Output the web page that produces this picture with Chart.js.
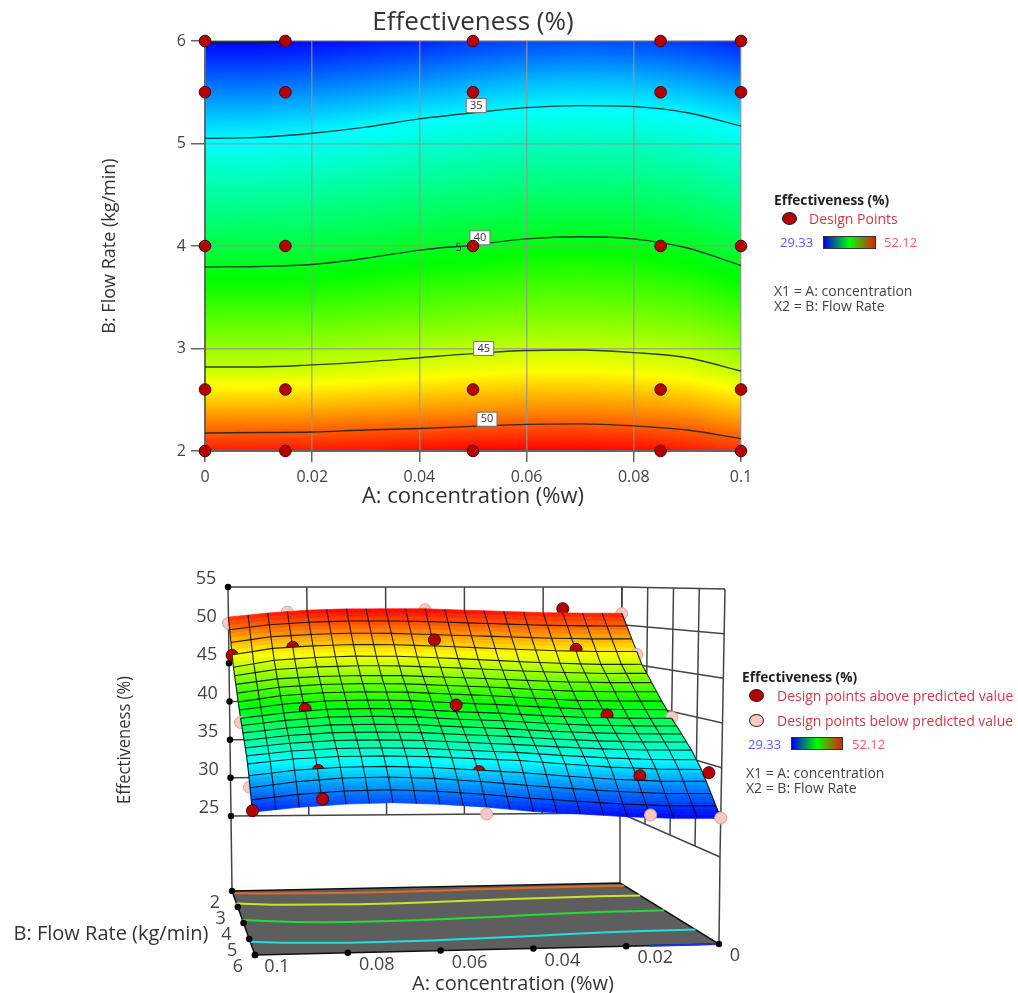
<!DOCTYPE html>
<html lang="en">
<head>
    <meta charset="UTF-8">
    <title>Effectiveness (%)</title>
    <script src="https://cdn.jsdelivr.net/npm/chart.js"></script>
    <style>
        body {
            margin: 0;
            background: #fff;
            font-family: "Open Sans", sans-serif;
            width: 1018px;
            height: 993px;
            overflow: hidden;
            position: relative;
        }
        canvas {
            position: absolute;
            left: 0;
            filter: blur(0.6px);
        }
        #contourChart { top: 0; }
        #surfaceChart { top: 520px; }
        .note {
            position: absolute;
            white-space: nowrap;
            font-size: 14px;
            line-height: 14px;
            color: #444;
            filter: blur(0.4px);
        }
        .head { font-weight: 700; color: #222; font-size: 13.7px; }
        .red { color: #cf3a48; }
        .low { color: #5a5aff; font-size: 13px; }
        .high { color: #ff5a5a; font-size: 13px; }
        .dot {
            position: absolute;
            width: 13px;
            height: 11px;
            border-radius: 50%;
            border: 1.5px solid #222;
            background: #b30000;
        }
        .dot.pink { background: #f8c8c4; }
        .bar {
            position: absolute;
            height: 11px;
            border: 1px solid #333;
            background: linear-gradient(90deg, #0000e8, #00ff00 50%, #e02000);
        }
    </style>
</head>
<body>
    <canvas id="contourChart" width="1018" height="520"></canvas>
    <canvas id="surfaceChart" width="1018" height="473"></canvas>

    <div class="note head" style="left:774px;top:193px">Effectiveness (%)</div>
    <div class="dot" style="left:782px;top:212px"></div>
    <div class="note red" style="left:809px;top:212px">Design Points</div>
    <div class="note low" style="left:780px;top:235px">29.33</div>
    <div class="bar" style="left:823px;top:236px;width:51px"></div>
    <div class="note high" style="left:884px;top:235px">52.12</div>
    <div class="note" style="left:774px;top:284px">X1 = A: concentration</div>
    <div class="note" style="left:774px;top:299px">X2 = B: Flow Rate</div>

    <div class="note head" style="left:742px;top:670px">Effectiveness (%)</div>
    <div class="dot" style="left:749px;top:689px"></div>
    <div class="note red" style="left:777px;top:689px">Design points above predicted value</div>
    <div class="dot pink" style="left:749px;top:714px"></div>
    <div class="note red" style="left:777px;top:714px">Design points below predicted value</div>
    <div class="note low" style="left:748px;top:737px">29.33</div>
    <div class="bar" style="left:791px;top:737px;width:50px"></div>
    <div class="note high" style="left:852px;top:737px">52.12</div>
    <div class="note" style="left:746px;top:766px">X1 = A: concentration</div>
    <div class="note" style="left:746px;top:781px">X2 = B: Flow Rate</div>

    <script>
        const concTicks = [0, 0.02, 0.04, 0.06, 0.08, 0.1];
        const flowTicks = [2, 3, 4, 5, 6];
        const effectTicks = [25, 30, 35, 40, 45, 50, 55];

        // contour positions: flow rate at each concentration
        const concGrid = [0, 0.01, 0.02, 0.03, 0.04, 0.05, 0.06, 0.07, 0.08, 0.09, 0.1];
        const contour35 = [5.05, 5.06, 5.10, 5.16, 5.24, 5.30, 5.35, 5.37, 5.36, 5.30, 5.17];
        const contour40 = [3.795, 3.80, 3.82, 3.88, 3.96, 4.01, 4.07, 4.09, 4.07, 3.98, 3.81];
        const contour45 = [2.82, 2.82, 2.84, 2.87, 2.91, 2.95, 2.98, 2.985, 2.96, 2.91, 2.78];
        const contour50 = [2.175, 2.18, 2.185, 2.205, 2.22, 2.24, 2.26, 2.265, 2.245, 2.205, 2.12];
        const contourLevels = [35, 40, 45, 50];
        const contourLabelConc = [0.0506, 0.0513, 0.052, 0.0526];
        const contourLabelFlow = [5.37, 4.08, 3.0, 2.31];
        const floorContourColors = ['#22dde0', '#22dd33', '#c4e62a', '#e8681e'];
        // the short 30 contour that runs along the top left edge
        const contour30Conc = [0, 0.008, 0.015];
        const contour30Flow = [5.985, 5.985, 5.995];

        const flowGrid = [2, 2.4, 2.8, 3.2, 3.6, 4, 4.4, 4.8, 5.2, 5.6, 6];
        const surfaceZ = [
            [51.51, 51.53, 51.6, 51.77, 51.94, 52.12, 52.12, 52.12, 51.95, 51.58, 51.06],
            [48.26, 48.28, 48.36, 48.53, 48.7, 48.87, 49.03, 49.06, 48.91, 48.62, 47.88],
            [45.16, 45.16, 45.31, 45.53, 45.8, 46.06, 46.25, 46.28, 46.12, 45.78, 44.9],
            [43.05, 43.06, 43.16, 43.37, 43.62, 43.82, 44.0, 44.03, 43.92, 43.64, 42.96],
            [41.0, 41.02, 41.12, 41.39, 41.71, 41.94, 42.18, 42.24, 42.14, 41.77, 41.02],
            [39.18, 39.21, 39.3, 39.54, 39.85, 40.04, 40.36, 40.45, 40.36, 39.93, 39.31],
            [37.59, 37.62, 37.74, 37.97, 38.28, 38.49, 38.75, 38.83, 38.76, 38.41, 37.83],
            [36.0, 36.03, 36.17, 36.41, 36.72, 36.94, 37.19, 37.28, 37.21, 36.9, 36.36],
            [34.1, 34.16, 34.39, 34.75, 35.16, 35.39, 35.63, 35.72, 35.66, 35.38, 34.82],
            [31.72, 31.74, 31.95, 32.29, 32.68, 33.11, 33.47, 33.64, 33.52, 33.11, 32.43],
            [29.33, 29.33, 29.51, 29.82, 30.1, 30.59, 30.92, 31.1, 30.94, 30.59, 30.05]
        ];

        // design points
        const designConc = [0, 0.015, 0.05, 0.085, 0.1];
        const designFlow = [2, 2.6, 4, 5.5, 6];
        const designZ = [
            [51.45, 52.12, 52.0, 51.7, 50.26],
            [46.32, 47.0, 48.25, 47.34, 46.32],
            [39.27, 39.6, 40.85, 40.4, 38.79],
            [34.0, 33.65, 34.15, 34.3, 32.39],
            [29.37, 29.71, 29.82, 31.5, 30.2]
        ];
        const designAbove = [
            [0, 1, 0, 0, 0],
            [0, 1, 1, 1, 1],
            [0, 1, 1, 1, 0],
            [1, 1, 1, 1, 0],
            [0, 0, 0, 1, 1]
        ];

        const zMin = 29.33;
        const zMax = 52.12;
        const font = '"Open Sans", sans-serif';
        const textColor = '#444';

        function jet(z) {
            const t = Math.min(1, Math.max(0, (z - zMin) / (zMax - zMin))) * 4;
            const stops = [[0, 0, 255], [0, 255, 255], [0, 255, 0], [255, 255, 0], [255, 0, 0]];
            const i = Math.min(3, Math.floor(t));
            const c = stops[i].map((v, k) => Math.round(v + (stops[i + 1][k] - v) * (t - i)));
            return `rgb(${c[0]},${c[1]},${c[2]})`;
        }

        function lookup(grid, value) {
            let i = 0;
            while (i < grid.length - 2 && value > grid[i + 1]) i++;
            return [i, (value - grid[i]) / (grid[i + 1] - grid[i])];
        }

        function zAt(conc, flow) {
            const [c, s] = lookup(concGrid, conc);
            const [r, t] = lookup(flowGrid, flow);
            const low = surfaceZ[r][c] + (surfaceZ[r][c + 1] - surfaceZ[r][c]) * s;
            const high = surfaceZ[r + 1][c] + (surfaceZ[r + 1][c + 1] - surfaceZ[r + 1][c]) * s;
            return low + (high - low) * t;
        }

        /* ---------- top plot ---------- */

        const fieldPlugin = {
            id: 'field',
            beforeDraw(chart) {
                const { ctx, chartArea: a, scales } = chart;
                for (let px = a.left; px < a.right; px++) {
                    const conc = scales.x.getValueForPixel(px + 0.5);
                    for (let py = a.top; py < a.bottom; py++) {
                        ctx.fillStyle = jet(zAt(conc, scales.y.getValueForPixel(py + 0.5)));
                        ctx.fillRect(px, py, 1, 1);
                    }
                }
            },
            afterDatasetDraw(chart, args) {
                if (args.index !== 1) return;
                const { ctx, scales } = chart;
                ctx.save();
                ctx.font = '11px ' + font;
                ctx.textAlign = 'center';
                ctx.textBaseline = 'middle';
                contourLevels.forEach((level, i) => {
                    const x = scales.x.getPixelForValue(contourLabelConc[i]);
                    const y = scales.y.getPixelForValue(contourLabelFlow[i]);
                    ctx.fillStyle = '#fff';
                    ctx.strokeStyle = '#777';
                    ctx.fillRect(x - 10, y - 7, 20, 14);
                    ctx.strokeRect(x - 10, y - 7, 20, 14);
                    ctx.fillStyle = '#333';
                    ctx.fillText(level, x, y);
                });
                ctx.fillStyle = '#333';
                ctx.fillText('5', scales.x.getPixelForValue(0.0473), scales.y.getPixelForValue(3.98));
                ctx.restore();
            }
        };

        function contourData(flows) {
            return concGrid.map((c, i) => ({ x: c, y: flows[i] }));
        }

        function contourSet(points) {
            return {
                data: points,
                showLine: true,
                pointRadius: 0,
                borderColor: 'rgba(15, 35, 35, 0.85)',
                borderWidth: 1.4,
                cubicInterpolationMode: 'monotone'
            };
        }

        const designPoints = [];
        designFlow.forEach(f => designConc.forEach(c => designPoints.push({ x: c, y: f })));

        new Chart(document.getElementById('contourChart'), {
            type: 'scatter',
            data: {
                datasets: [
                    {
                        data: designPoints,
                        pointRadius: 5.8,
                        pointBackgroundColor: '#b30000',
                        pointBorderColor: '#4a0000',
                        pointBorderWidth: 1,
                        clip: false
                    },
                    contourSet(contourData(contour35)),
                    contourSet(contourData(contour40)),
                    contourSet(contourData(contour45)),
                    contourSet(contourData(contour50)),
                    contourSet(contour30Conc.map((c, i) => ({ x: c, y: contour30Flow[i] })))
                ]
            },
            options: {
                responsive: false,
                animation: false,
                events: [],
                layout: { autoPadding: false, padding: { right: 277 } },
                plugins: {
                    legend: { display: false },
                    tooltip: { enabled: false },
                    title: {
                        display: true,
                        text: 'Effectiveness (%)',
                        fullSize: false,
                        color: '#333',
                        font: { family: font, size: 26, weight: 'normal', lineHeight: 1.2 },
                        padding: { top: 7.4, bottom: 2.4 }
                    }
                },
                scales: {
                    x: {
                        type: 'linear',
                        min: 0,
                        max: 0.1,
                        afterBuildTicks: scale => { scale.ticks = concTicks.map(v => ({ value: v })); },
                        afterFit: scale => { scale.height = 69; },
                        grid: { color: 'rgba(150,150,150,0.75)', lineWidth: 1.5, tickLength: 11, tickColor: '#666' },
                        border: { color: '#666', width: 2 },
                        ticks: { color: textColor, padding: 6, maxRotation: 0, font: { family: font, size: 16 }, callback: v => String(v) },
                        title: {
                            display: true,
                            text: 'A: concentration (%w)',
                            color: '#333',
                            font: { family: font, size: 22, lineHeight: 1.2 },
                            padding: { top: 0, bottom: 10 }
                        }
                    },
                    y: {
                        type: 'linear',
                        min: 2,
                        max: 6,
                        afterBuildTicks: scale => { scale.ticks = flowTicks.map(v => ({ value: v })); },
                        afterFit: scale => { scale.width = 205; },
                        grid: { color: 'rgba(150,150,150,0.75)', lineWidth: 1.5, tickLength: 14, tickColor: '#666' },
                        border: { color: '#666', width: 2 },
                        ticks: { color: textColor, padding: 5, font: { family: font, size: 16 }, callback: v => String(v) },
                        title: {
                            display: true,
                            text: 'B: Flow Rate (kg/min)',
                            color: '#333',
                            font: { family: font, size: 18, lineHeight: 1.2 },
                            padding: { top: 99, bottom: 0 }
                        }
                    }
                }
            },
            plugins: [fieldPlugin]
        });

        /* ---------- 3D plot ---------- */

        // where the corners of the box land on the page, for the projection only
        // order: (A=.1,B=2) (A=0,B=2) (A=0,B=6) (A=.1,B=6)
        const boxLow = [[231, 816], [620, 813], [720, 857], [253, 857]];
        const boxHigh = [[228, 587], [622, 587], [725, 589], [250, 590]];
        const boxFloor = [[232, 891], [620, 883], [719, 944], [255, 955]];

        function mix(c, u, v, k) {
            return (1 - u) * (1 - v) * c[0][k] + u * (1 - v) * c[1][k] + u * v * c[2][k] + (1 - u) * v * c[3][k];
        }

        function project(conc, flow, z) {
            const u = (0.1 - conc) / 0.1;
            const v = (flow - 2) / 4;
            const w = (z - 25) / 30;
            return {
                x: mix(boxLow, u, v, 0) + (mix(boxHigh, u, v, 0) - mix(boxLow, u, v, 0)) * w,
                y: mix(boxLow, u, v, 1) + (mix(boxHigh, u, v, 1) - mix(boxLow, u, v, 1)) * w
            };
        }

        function projectFloor(conc, flow) {
            const u = (0.1 - conc) / 0.1;
            const v = (flow - 2) / 4;
            return { x: mix(boxFloor, u, v, 0), y: mix(boxFloor, u, v, 1) };
        }

        const meshCells = 20;
        const meshFine = 3;
        const meshConc = i => 0.1 * i / meshCells;
        const meshFlow = j => 2 + 4 * j / meshCells;

        function meshPoint(i, j) {
            const c = meshConc(i);
            const f = meshFlow(j);
            return project(c, f, zAt(c, f));
        }

        function paintRow(chart, row) {
            const { ctx, scales } = chart;
            const sx = p => scales.x.getPixelForValue(p.x);
            const sy = p => scales.y.getPixelForValue(p.y);
            ctx.save();
            ctx.lineWidth = 0.7;
            for (let s = 0; s < meshFine; s++) {
                for (let i = 0; i < meshCells * meshFine; i++) {
                    const i0 = i / meshFine;
                    const i1 = (i + 1) / meshFine;
                    const j0 = row + s / meshFine;
                    const j1 = row + (s + 1) / meshFine;
                    const a = meshPoint(i0, j0);
                    const b = meshPoint(i1, j0);
                    const c = meshPoint(i1, j1);
                    const d = meshPoint(i0, j1);
                    const color = jet(zAt(meshConc((i0 + i1) / 2), meshFlow((j0 + j1) / 2)));
                    ctx.fillStyle = color;
                    ctx.strokeStyle = color;
                    ctx.beginPath();
                    ctx.moveTo(sx(a), sy(a));
                    ctx.lineTo(sx(b), sy(b));
                    ctx.lineTo(sx(c), sy(c));
                    ctx.lineTo(sx(d), sy(d));
                    ctx.closePath();
                    ctx.fill();
                    ctx.stroke();
                }
            }
            ctx.strokeStyle = 'rgba(0,0,0,0.85)';
            ctx.lineWidth = 1.1;
            for (let i = 0; i <= meshCells; i++) {
                ctx.beginPath();
                for (let s = 0; s <= meshFine; s++) {
                    const p = meshPoint(i, row + s / meshFine);
                    if (s === 0) ctx.moveTo(sx(p), sy(p));
                    else ctx.lineTo(sx(p), sy(p));
                }
                ctx.stroke();
            }
            ctx.restore();
        }

        const labelPlugin = {
            id: 'boxLabels',
            beforeDatasetDraw(chart, args) {
                const row = chart.data.datasets[args.index].meshRow;
                if (row !== undefined) paintRow(chart, row);
            },
            afterDatasetsDraw(chart) {
                const { ctx, scales } = chart;
                const put = (text, p, dx, dy) => ctx.fillText(text, scales.x.getPixelForValue(p.x) + dx, scales.y.getPixelForValue(p.y) + dy);
                ctx.save();
                ctx.fillStyle = textColor;
                ctx.textAlign = 'center';
                ctx.textBaseline = 'middle';
                ctx.font = '18px ' + font;
                effectTicks.forEach(z => put(z, project(0.1, 2, z), -22, -8));
                flowTicks.forEach(f => put(f, projectFloor(0.1, f), -17, 11.5));
                concTicks.forEach(c => put(c, projectFloor(c, 6), c === 0 ? 16 : c === 0.1 ? 22 : 29, 12));
                ctx.fillStyle = '#333';
                ctx.font = '20px ' + font;
                put('A: concentration (%w)', { x: 513, y: 984 }, 0, 0);
                put('B: Flow Rate (kg/min)', { x: 111, y: 934 }, 0, 0);
                ctx.translate(scales.x.getPixelForValue(125), scales.y.getPixelForValue(740));
                ctx.rotate(-Math.PI / 2);
                ctx.scale(0.87, 1);
                ctx.font = '19px ' + font;
                ctx.fillText('Effectiveness (%)', 0, 0);
                ctx.restore();
            }
        };

        function wire(points, extra) {
            return Object.assign({
                data: points,
                showLine: true,
                pointRadius: 0,
                borderColor: '#444',
                borderWidth: 1.5,
                order: 3000,
                clip: false
            }, extra);
        }

        const surfaceSets = [];

        // back wall and side wall
        concTicks.forEach(c => surfaceSets.push(wire([project(c, 2, 25), project(c, 2, 55)])));
        flowTicks.forEach(f => surfaceSets.push(wire([project(0, f, 25), project(0, f, 55)])));
        effectTicks.forEach(z => surfaceSets.push(wire([project(0.1, 2, z), project(0, 2, z), project(0, 6, z)])));
        surfaceSets.push(wire([project(0.1, 2, 25), projectFloor(0.1, 2)]));
        surfaceSets.push(wire([project(0, 2, 25), projectFloor(0, 2)]));
        surfaceSets.push(wire([project(0, 6, 25), projectFloor(0, 6)]));

        // floor with its contours
        surfaceSets.push(wire(
            [projectFloor(0.1, 2), projectFloor(0, 2), projectFloor(0, 6), projectFloor(0.1, 6), projectFloor(0.1, 2)],
            { fill: 'shape', backgroundColor: '#5e5e5e', borderColor: '#111', order: 2900 }
        ));
        [contour35, contour40, contour45, contour50].forEach((flows, k) => {
            surfaceSets.push(wire(concGrid.map((c, i) => projectFloor(c, flows[i])), {
                borderColor: floorContourColors[k],
                borderWidth: 2,
                cubicInterpolationMode: 'monotone',
                order: 2800
            }));
        });
        surfaceSets.push(wire(contour30Conc.map(c => projectFloor(c, 6)), {
            borderColor: '#2030d0',
            borderWidth: 2,
            order: 2800
        }));

        // tick dots
        const tickDots = effectTicks.map(z => project(0.1, 2, z))
            .concat(flowTicks.map(f => projectFloor(0.1, f)))
            .concat(concTicks.map(c => projectFloor(c, 6)));
        surfaceSets.push(wire(tickDots, { showLine: false, pointRadius: 2.5, pointBackgroundColor: '#000', pointBorderColor: '#000', order: 2700 }));

        // surface rows back to front, the dataset's line is the row's back edge
        for (let row = 0; row < meshCells; row++) {
            const edge = [];
            for (let i = 0; i <= meshCells; i++) edge.push(meshPoint(i, row));
            surfaceSets.push(wire(edge, {
                meshRow: row,
                borderColor: row === 0 ? 'rgba(0,0,0,0)' : 'rgba(0,0,0,0.85)',
                borderWidth: 1.1,
                order: 1000 - 10 * row
            }));
        }

        // design points slot in between the rows so the surface hides what it should
        designFlow.forEach((f, r) => {
            const rowsBehind = Math.floor((f - 2) / 0.2 + 1e-6);
            surfaceSets.push(wire(designConc.map((c, i) => project(c, f, designZ[r][i])), {
                showLine: false,
                pointRadius: 6,
                pointBackgroundColor: designAbove[r].map(a => a ? '#b30000' : '#f8c8c4'),
                pointBorderColor: designAbove[r].map(a => a ? '#4a0000' : '#d8a098'),
                pointBorderWidth: 1,
                order: 1005 - 10 * rowsBehind
            }));
        });

        new Chart(document.getElementById('surfaceChart'), {
            type: 'scatter',
            data: { datasets: surfaceSets },
            options: {
                responsive: false,
                animation: false,
                events: [],
                layout: { autoPadding: false, padding: 0 },
                plugins: { legend: { display: false }, tooltip: { enabled: false } },
                scales: {
                    x: { type: 'linear', display: false, min: 0, max: 1018 },
                    y: { type: 'linear', display: false, min: 520, max: 993, reverse: true }
                }
            },
            plugins: [labelPlugin]
        });
    </script>
</body>
</html>
